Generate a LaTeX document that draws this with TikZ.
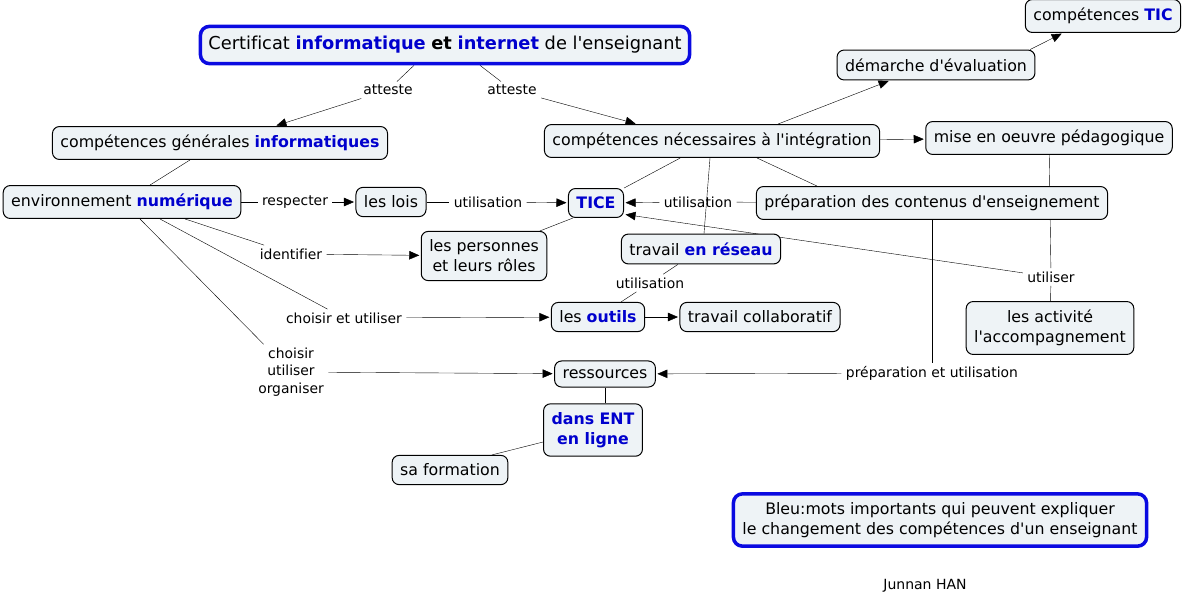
\documentclass[tikz,border=0pt]{standalone}
\usepackage{fontspec}
\setmainfont{DejaVu Sans}[Ligatures={TeXOff,NoCommon}]
\usetikzlibrary{shapes,arrows.meta,backgrounds}
\definecolor{cmfond}{RGB}{238,243,246}
\definecolor{cmbleu}{RGB}{0,0,205}
\definecolor{cmcadre}{RGB}{10,10,225}
\newcommand{\motcle}[1]{{\color{cmbleu}\bfseries #1}}

\begin{document}
\begin{tikzpicture}[x=1pt,y=-1pt,line width=1pt,
	concept/.style={draw=black,line width=1pt,fill=cmfond,rounded corners=7pt,inner xsep=8pt,inner ysep=8.5pt,font=\fontsize{15.8}{20}\selectfont,align=center},
	titre/.style={concept,draw=cmcadre,line width=3.5pt,rounded corners=9pt},
	lien/.style={inner xsep=4pt,inner ysep=3pt,font=\fontsize{13.9}{17.5}\selectfont,align=center},
	fleche/.style={-{Triangle[length=10pt,width=8.5pt]},shorten >=1.5pt}]
	\useasboundingbox (0,0) rectangle (1185,603);
	\node[titre,inner ysep=10pt,font=\fontsize{17.8}{21}\selectfont] (cert) at (445,45) {Certificat \motcle{informatique} \textbf{et} \motcle{internet} de l'enseignant};
	\node[concept] (cg) at (220,143) {compétences générales \motcle{informatiques}};
	\node[concept] (env) at (122,202) {environnement \motcle{numérique}};
	\node[concept] (lois) at (391,202) {les lois};
	\node[concept] (tice) at (596,203) {\motcle{TICE}};
	\node[concept] (compnec) at (712,141) {compétences nécessaires à l'intégration};
	\node[concept] (prep) at (932,203) {préparation des contenus d'enseignement};
	\node[concept] (demarche) at (936,65) {démarche d'évaluation};
	\node[concept] (comptic) at (1103,16) {compétences \motcle{TIC}};
	\node[concept] (mise) at (1049,138) {mise en oeuvre pédagogique};
	\node[concept] (personnes) at (484,256) {les personnes\\et leurs rôles};
	\node[concept] (reseau) at (701,249) {travail \motcle{en réseau}};
	\node[concept] (outils) at (598,317) {les \motcle{outils}};
	\node[concept] (collab) at (760,317) {travail collaboratif};
	\node[concept] (activite) at (1050,328) {les activité\\l'accompagnement};
	\node[concept] (ressources) at (605,374) {ressources};
	\node[concept] (ent) at (593,430) {\motcle{dans ENT}\\\motcle{en ligne}};
	\node[concept] (formation) at (450,470) {sa formation};
	\node[titre,inner xsep=9pt] (legende) at (940,520) {Bleu:mots importants qui peuvent expliquer\\le changement des compétences d'un enseignant};
	\node[font=\fontsize{14}{17}\selectfont] (auteur) at (925,586) {Junnan HAN};
	\node[lien] (att1) at (388,90) {atteste};
	\node[lien] (att2) at (512,90) {atteste};
	\node[lien] (respecter) at (295,202) {respecter};
	\node[lien] (util1) at (488,202) {utilisation};
	\node[lien] (util2) at (698,202) {utilisation};
	\node[lien] (identifier) at (291,254) {identifier};
	\node[lien] (choix1) at (344,318) {choisir et utiliser};
	\node[lien] (choix2) at (291,372) {choisir\\utiliser\\organiser};
	\node[lien] (util3) at (650,283) {utilisation};
	\node[lien] (utiliser) at (1051,277) {utiliser};
	\node[lien] (preputil) at (932,373) {préparation et utilisation};
	\begin{scope}[on background layer]
		\draw ([xshift=-31pt]cert.south) -- (att1);
		\draw[fleche] (att1) -- ([xshift=55pt]cg.north);
		\draw ([xshift=35pt]cert.south) -- (att2);
		\draw[fleche] (att2) -- ([xshift=-75pt]compnec.north);
		\draw ([xshift=-30pt]cg.south) -- ([xshift=28pt]env.north);
		\draw (env) -- (respecter);
		\draw[fleche] (respecter) -- (lois);
		\draw (lois) -- (util1);
		\draw[fleche] (util1) -- (tice);
		\draw (prep) -- (util2);
		\draw[fleche] (util2) -- (tice);
		\draw (compnec) -- (tice);
		\draw ([xshift=45pt]compnec.south) -- ([xshift=-115pt]prep.north);
		\draw ([xshift=-2pt]compnec.south) -- ([xshift=3pt]reseau.north);
		\draw[fleche] ([xshift=66pt]compnec.north) -- ([xshift=-46pt]demarche.south);
		\draw[fleche] ([xshift=94pt]demarche.north) -- ([xshift=-40pt]comptic.south);
		\draw[fleche] (compnec) -- (mise);
		\draw (mise) -- (utiliser);
		\draw (utiliser) -- (activite);
		\draw[fleche] (utiliser) -- (tice.-22);
		\draw (prep) -- (preputil);
		\draw[fleche] (preputil) -- (ressources);
		\draw (reseau) -- (util3);
		\draw (util3) -- (outils);
		\draw[fleche] (outils) -- (collab);
		\draw ([xshift=63pt]env.south) -- (identifier);
		\draw[fleche] (identifier) -- (personnes);
		\draw ([xshift=38pt]env.south) -- (choix1);
		\draw[fleche] (choix1) -- (outils);
		\draw ([xshift=18pt]env.south) -- (choix2);
		\draw[fleche] (choix2) -- (ressources);
		\draw ([xshift=-23pt]tice.south) -- ([xshift=56pt]personnes.north);
		\draw (ressources.south) -- (ressources.south |- ent.north);
		\draw ([yshift=-12pt]ent.west) -- ([xshift=42pt]formation.north);
	\end{scope}
\end{tikzpicture}
\end{document}
